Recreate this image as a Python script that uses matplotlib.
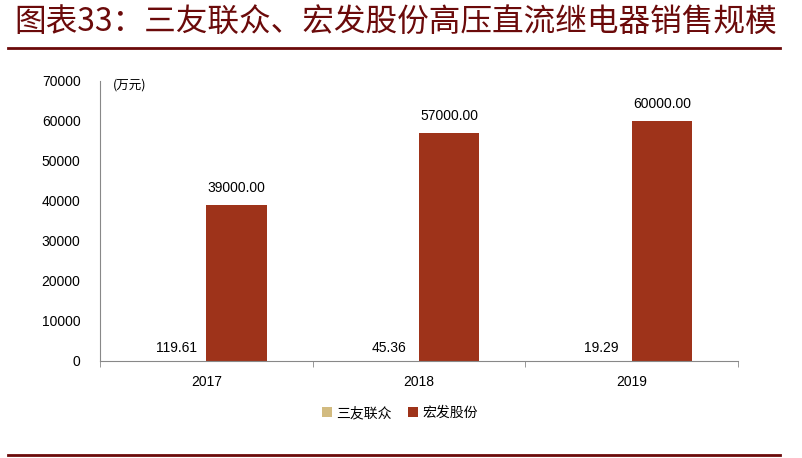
import numpy as np
import matplotlib.pyplot as plt

plt.rcParams['font.family'] = ['Noto Sans CJK SC', 'DejaVu Sans']

years = ['2017', '2018', '2019']
sanyou = [119.61, 45.36, 19.29]
hongfa = [39000.00, 57000.00, 60000.00]
series_names = ['三友联众', '宏发股份']
colors = ['#D2BB80', '#9E331A']

fig = plt.figure(figsize=(8.03, 4.58), dpi=100)
ax = fig.add_axes([100/803, 1-361/458, 638/803, 280/458])

x = np.arange(len(years))
w = 0.283
b1 = ax.bar(x - w/2, sanyou, w, color=colors[0], label=series_names[0])
b2 = ax.bar(x + w/2, hongfa, w, color=colors[1], label=series_names[1])

for rect, v in zip(b1, sanyou):
    ax.text(rect.get_x() + rect.get_width()/2, v + 1500, f'{v:.2f}',
            ha='center', va='bottom', fontsize=10, family='Liberation Sans')
for rect, v in zip(b2, hongfa):
    ax.text(rect.get_x() + rect.get_width()/2, v + 2600, f'{v:.2f}',
            ha='center', va='bottom', fontsize=10, family='Liberation Sans')

ax.set_xlim(-0.5, 2.5)
ax.set_ylim(0, 70000)
ax.set_yticks(np.arange(0, 70001, 10000))
ax.set_xticks(x)
ax.set_xticklabels(years, fontsize=10, family='Liberation Sans')
ax.set_xticks([-0.5, 0.5, 1.5, 2.5], minor=True)
ax.tick_params(axis='x', which='major', length=0, pad=10)
ax.tick_params(axis='x', which='minor', length=4, color='#888888')
ax.tick_params(axis='y', length=0, pad=14, labelsize=10)
for lbl in ax.get_yticklabels():
    lbl.set_family('Liberation Sans')

for s in ['top', 'right']:
    ax.spines[s].set_visible(False)
ax.spines['left'].set_color('#888888')
ax.spines['bottom'].set_color('#888888')

ax.text(0.02, 69000, '(万元)', fontsize=9, va='center', ha='left',
        transform=ax.get_yaxis_transform())

leg = fig.legend(handles=[b1, b2], loc='center', bbox_to_anchor=(400/803, 1-413/458),
                 ncol=2, frameon=False, fontsize=10, handlelength=0.7, handleheight=0.7,
                 handletextpad=0.3, columnspacing=1.2)

fig.text(14/803, 1-23/458, '图表33：三友联众、宏发股份高压直流继电器销售规模',
         fontsize=22.8, color='#6B0A0A', style='italic', va='center', ha='left')
fig.add_artist(plt.Line2D([8/803, 780/803], [1-48/458, 1-48/458], color='#6B0A0A', lw=2))
fig.add_artist(plt.Line2D([8/803, 780/803], [1-455/458, 1-455/458], color='#6B0A0A', lw=2))

fig.savefig('out.png', dpi=100, facecolor='w')
